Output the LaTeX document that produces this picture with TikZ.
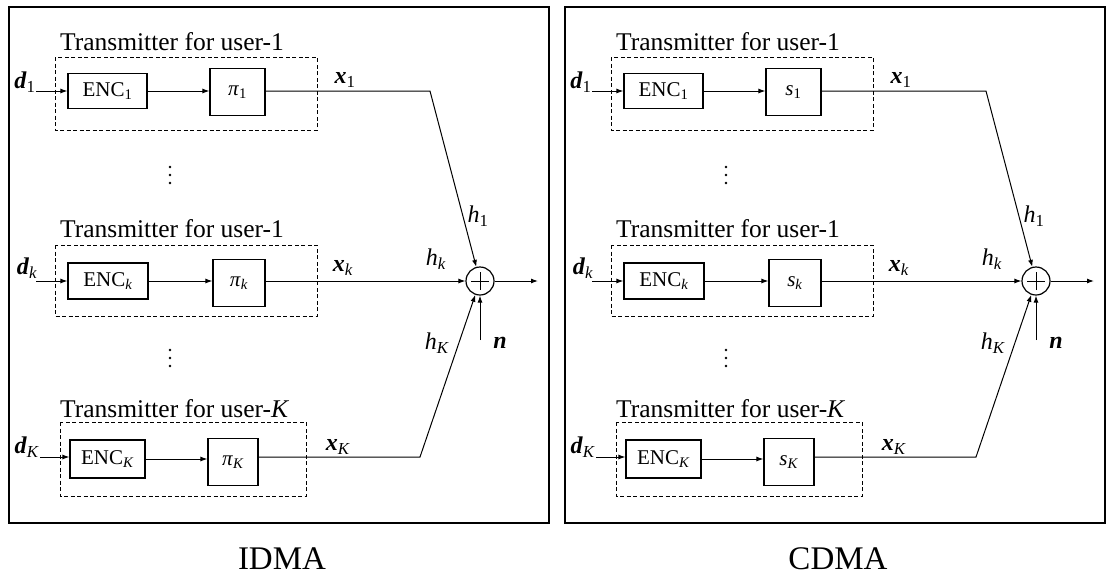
\documentclass[tikz,border=0pt]{standalone}
\usepackage{fontspec}
\setmainfont{Liberation Serif}
\usetikzlibrary{arrows.meta}
\newcommand\bi[1]{\textbf{\textit{#1}}}
\newcommand\drawpanel[2]{%
  % outer frame
  \draw[frame] (9,7) rectangle (549,523);
  % user 1
  \node[title] (t1) at (172,42) {Transmitter for user-1};
  \draw[dbox] (55,57) rectangle (317,130);
  \node[blk, minimum width=79pt, minimum height=35pt] (e1) at (107.5,91) {ENC\textsubscript{1}};
  \node[blk, minimum width=55pt, minimum height=47pt] (p1) at (237.5,92) {#1\textsubscript{1}};
  \node[lab] (d1) at (25,82) {\bi{d}\textsubscript{1}};
  \coordinate (d1s) at (36,91);
  \draw[arr] (d1s) -- (d1s -| e1.west);
  \draw[arr] (e1) -- (e1 -| p1.west);
  \node[lab] (x1) at (345,80) {\bi{x}\textsubscript{1}};
  \coordinate (b1) at (430,91);
  % vertical dots
  \foreach \yy in {167,175,183,350,358,366} \fill (170,\yy) circle[radius=1.4pt];
  % user k
  \node[title] (t2) at (172,229) {Transmitter for user-1};
  \draw[dbox] (55,245) rectangle (317,316);
  \node[blk, minimum width=80pt, minimum height=36pt] (ek) at (108,281) {ENC\textsubscript{\textit{k}}};
  \node[blk, minimum width=52pt, minimum height=47pt] (pk) at (239,283) {#1\textsubscript{\textit{k}}};
  \node[lab] (dk) at (27,268) {\bi{d}\textsubscript{\textit{k}}};
  \coordinate (dks) at (36,281);
  \draw[arr] (dks) -- (dks -| ek.west);
  \draw[arr] (ek) -- (ek -| pk.west);
  \node[lab] (xk) at (343,268) {\bi{x}\textsubscript{\textit{k}}};
  % user K
  \node[title, anchor=west] (t3) at (60,409) {Transmitter for user-\textit{K}};
  \draw[dbox] (60,422) rectangle (306,496);
  \node[blk, minimum width=75pt, minimum height=38pt] (eK) at (107.5,459) {ENC\textsubscript{\textit{K}}};
  \node[blk, minimum width=50pt, minimum height=47pt] (pK) at (233,462) {#1\textsubscript{\textit{K}}};
  \node[lab] (dK) at (27,447) {\bi{d}\textsubscript{\textit{K}}};
  \coordinate (dKs) at (40,457);
  \draw[arr] (dKs) -- (dKs -| eK.west);
  \draw[arr] (eK) -- (eK -| pK.west);
  \node[lab] (xK) at (338,447) {\bi{x}\textsubscript{\textit{K}}};
  \coordinate (bK) at (420,457);
  % adder
  \node[adder] (add) at (480,281) {};
  \draw[arr] (p1.east |- b1) -- (b1) -- (add);
  \draw[arr] (pk.east |- add) -- (add);
  \draw[arr] (pK.east |- bK) -- (bK) -- (add);
  \coordinate (ns) at (480,340);
  \draw[arr] (ns) -- (add);
  \coordinate (out) at (538,281);
  \draw[arr] (add) -- (out);
  \node[lab] (h1) at (478,216) {\textit{h}\textsubscript{1}};
  \node[lab] (hk) at (436,259) {\textit{h}\textsubscript{\textit{k}}};
  \node[lab] (hK) at (437,343) {\textit{h}\textsubscript{\textit{K}}};
  \node[lab] (n) at (500,343) {\bi{n}};
  \node[paneltitle] (ptitle) at (282,559) {#2};
}
\begin{document}
\begin{tikzpicture}[x=1pt,y=-1pt,
  frame/.style={draw, line width=1.5pt},
  blk/.style={draw, line width=1.2pt, inner sep=0pt, font=\fontsize{21}{24}\selectfont},
  dbox/.style={draw, line width=0.9pt, dash pattern=on 4pt off 2.5pt},
  arr/.style={line width=1pt, -{Latex[length=7pt,width=5pt]}},
  title/.style={font=\fontsize{25.5}{28}\selectfont, inner sep=0pt},
  lab/.style={font=\fontsize{24}{28}\selectfont, inner sep=0pt},
  paneltitle/.style={font=\fontsize{33}{36}\selectfont, inner sep=0pt},
  adder/.style={circle, draw, line width=1.2pt, minimum size=28pt, inner sep=0pt,
    path picture={\draw[line width=1pt]
      ([xshift=-9pt]path picture bounding box.center) -- ([xshift=9pt]path picture bounding box.center)
      ([yshift=-9pt]path picture bounding box.center) -- ([yshift=9pt]path picture bounding box.center);}}
]
\useasboundingbox (0,0) rectangle (1109,579);
\begin{scope}[name prefix=L-]
  \drawpanel{\textit{π}}{IDMA}
\end{scope}
\begin{scope}[xshift=556pt, name prefix=R-]
  \drawpanel{\textit{s}}{CDMA}
\end{scope}
\end{tikzpicture}
\end{document}
